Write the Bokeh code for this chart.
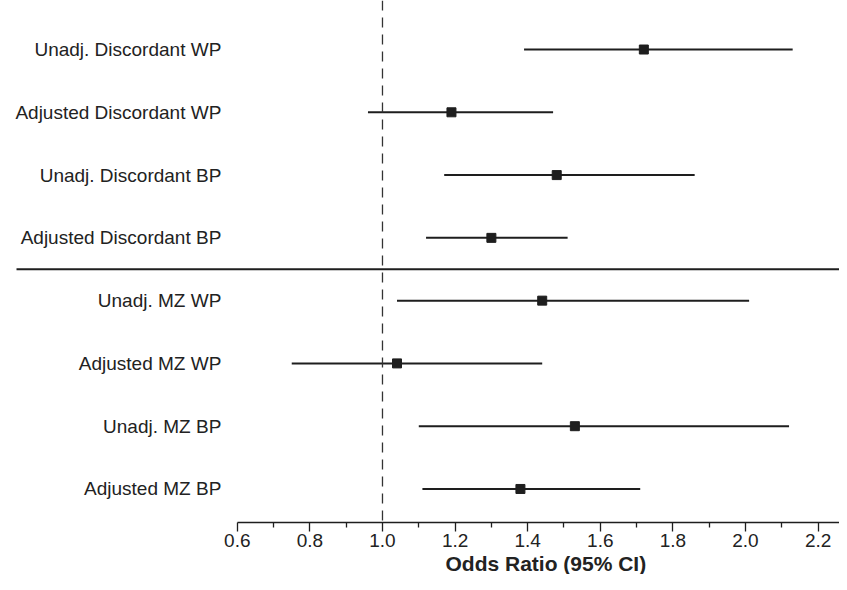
from bokeh.plotting import figure
from bokeh.models import Range1d, LinearAxis, FixedTicker, Span, ColumnDataSource, Title
from bokeh.core.properties import value
from bokeh.embed import file_html
from bokeh.resources import INLINE

# ---- data ----
labels = ["Unadj. Discordant WP", "Adjusted Discordant WP",
          "Unadj. Discordant BP", "Adjusted Discordant BP",
          "Unadj. MZ WP", "Adjusted MZ WP",
          "Unadj. MZ BP", "Adjusted MZ BP"]
odds = [1.72, 1.19, 1.48, 1.30, 1.44, 1.04, 1.53, 1.38]
ci_low = [1.39, 0.96, 1.17, 1.12, 1.04, 0.75, 1.10, 1.11]
ci_high = [2.13, 1.47, 1.86, 1.51, 2.01, 1.44, 2.12, 1.71]
tick_values = [0.6, 0.8, 1.0, 1.2, 1.4, 1.6, 1.8, 2.0, 2.2]
tick_labels = ["0.6", "0.8", "1.0", "1.2", "1.4", "1.6", "1.8", "2.0", "2.2"]
minor_values = [0.7, 0.9, 1.1, 1.3, 1.5, 1.7, 1.9, 2.1]
reference_value = 1.0
axis_title = "Odds Ratio (95% CI)"

n = len(labels)
ypos = [n - i for i in range(n)]

FONT = "Liberation Sans"
INK = "#1e1e1e"
TXT = "#222222"

X0, X1 = -0.0523, 2.259
Y0, Y1 = 0.466, 8.781

p = figure(width=839, height=574, output_backend="svg", toolbar_location=None,
           x_range=Range1d(X0, X1), y_range=Range1d(Y0, Y1),
           x_axis_type=None, y_axis_type=None,
           min_border_left=0, min_border_right=0, min_border_top=0,
           min_border_bottom=50)
p.outline_line_color = None
p.xgrid.visible = False
p.ygrid.visible = False
p.background_fill_color = "white"
p.border_fill_color = "white"

src = ColumnDataSource(dict(y=ypos, odds=odds, lo=ci_low, hi=ci_high,
                            label=labels, lx=[0.556] * n))

# reference line at OR = 1
p.add_layout(Span(location=reference_value, dimension="height",
                  line_color="#333333", line_width=1.3, line_dash="10 7"))

# separator between the two groups of estimates
p.segment(x0=[-0.0082], x1=[X1], y0=[4.5], y1=[4.5], line_color=INK, line_width=2)

p.segment(x0="lo", x1="hi", y0="y", y1="y", source=src, line_color=INK, line_width=2)
p.scatter(x="odds", y="y", source=src, marker="square", size=9,
          fill_color=INK, line_color=INK)

p.text(x="lx", y="y", text="label", source=src, text_align="right",
       text_baseline="middle", text_font=value(FONT), text_font_size="19px",
       text_color=TXT)

ax = LinearAxis(bounds=(tick_values[0], X1))
ax.ticker = FixedTicker(ticks=tick_values, minor_ticks=minor_values)
ax.major_label_overrides = {v: l for v, l in zip(tick_values, tick_labels)}
ax.major_label_text_font = FONT
ax.major_label_text_font_size = "19px"
ax.major_label_text_color = TXT
ax.major_label_standoff = 2
ax.axis_line_color = INK
ax.axis_line_width = 1.3
ax.major_tick_line_color = INK
ax.major_tick_line_width = 1.3
ax.major_tick_in = 0
ax.major_tick_out = 9
ax.minor_tick_line_color = INK
ax.minor_tick_line_width = 1.3
ax.minor_tick_in = 0
ax.minor_tick_out = 5
p.add_layout(ax, "below")

p.add_layout(Title(text=axis_title, align="left", offset=445, standoff=0,
                   text_font=FONT, text_font_style="bold",
                   text_font_size="21px", text_color=TXT), "below")

open("out.html", "w").write(file_html(p, INLINE))
